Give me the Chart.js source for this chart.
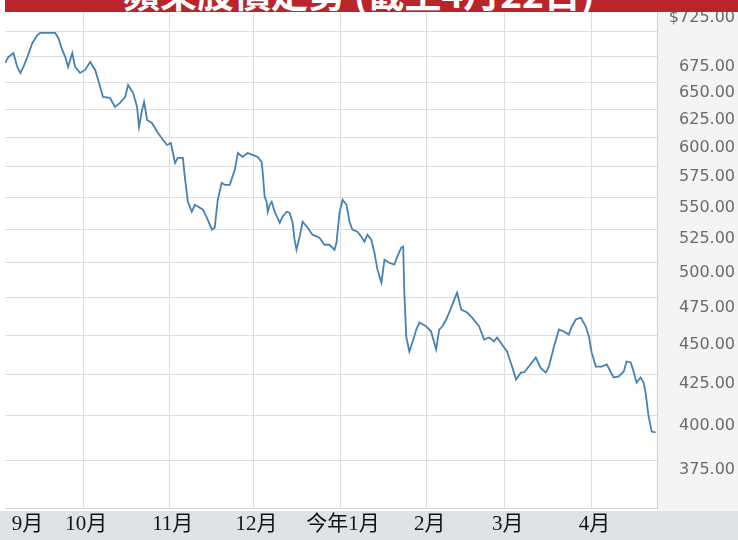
<!DOCTYPE html>
<html>
<head>
<meta charset="utf-8">
<script src="https://cdn.jsdelivr.net/npm/chart.js@4.4.1/dist/chart.umd.min.js"></script>
<style>
body{margin:0;background:#fff;}
#wrap{position:relative;width:738px;height:540px;overflow:hidden;}
#bar{position:absolute;left:5px;top:0;width:733px;height:12px;background:#b8262c;overflow:hidden;}
#bar span{position:absolute;left:118px;bottom:1px;white-space:nowrap;color:#fff;font:bold 37px/37px "Noto Sans CJK TC",sans-serif;}
</style>
</head>
<body>
<div id="wrap">
<canvas id="c" width="738" height="540"></canvas>
<div id="bar"><span>蘋果股價走勢 (截至4月22日)</span></div>
</div>
<script>
// day number counted from 1 Sept
const days = [
  2.1,3.2,5.0,6.4,7.5,8.6,10.0,11.8,13.6,14.6,
  20.0,21.1,22.5,23.6,24.6,26.1,27.1,28.9,30.7,32.5,
  34.3,36.1,37.1,39.6,41.4,43.2,45.0,46.1,47.9,49.3,
  50.0,51.1,51.8,52.9,54.6,56.8,58.6,60.0,61.4,62.9,
  63.9,65.7,66.4,67.5,68.9,70.0,71.8,72.9,74.6,76.1,
  77.1,78.2,79.6,80.7,82.5,84.3,85.4,87.1,88.9,90.7,
  92.5,93.9,94.3,95.0,95.7,96.1,96.8,97.5,98.6,100.4,
  101.4,102.9,103.9,105.0,105.7,106.4,107.5,108.6,110.4,112.1,
  114.6,116.4,118.2,120.0,120.7,121.8,122.9,124.3,125.4,126.4,
  128.2,129.6,130.7,131.8,133.2,134.3,135.4,136.8,137.9,139.6,
  141.4,142.5,143.9,144.6,145.0,145.7,146.8,147.9,149.3,150.4,
  152.9,154.6,155.7,156.4,157.5,158.6,160.0,161.8,162.9,163.9,
  165.4,167.5,169.3,171.8,173.6,175.4,177.1,178.2,180.0,181.8,
  183.6,185.0,186.8,187.9,189.6,192.1,193.9,195.7,196.8,198.6,
  200.4,202.1,203.9,205.0,206.4,208.2,210.0,211.1,212.1,213.6,
  215.7,217.5,220.0,221.8,223.6,224.6,226.1,227.1,228.2,229.6,
  230.7,231.4,232.5,233.6,235.0
];
const prices = [
  669.1,674.9,678.9,665.2,659.4,665.2,674.9,688.9,696.9,699.0,
  699.0,693.9,681.9,674.9,665.2,678.9,665.2,659.4,662.3,670.0,
  662.3,646.0,636.7,635.8,627.5,631.2,636.7,647.9,640.4,627.5,
  609.4,624.7,632.1,615.7,613.0,604.1,598.0,593.7,595.4,578.4,
  582.6,582.6,566.7,546.5,538.6,544.1,541.8,540.2,532.4,524.7,
  526.2,548.1,561.8,560.2,560.2,572.5,586.8,583.4,586.8,585.1,
  583.4,579.2,570.0,550.5,546.5,538.6,544.1,546.5,538.6,530.0,
  534.7,538.6,537.8,530.0,517.1,509.6,519.4,530.8,526.2,520.9,
  518.6,513.3,513.3,509.6,514.8,537.8,548.1,544.1,530.8,524.7,
  523.1,519.4,515.6,520.9,517.1,507.4,495.0,485.7,502.2,500.0,
  498.6,504.4,511.1,511.8,479.4,449.0,439.3,445.1,453.6,458.3,
  455.6,452.3,445.1,440.6,453.6,455.6,460.3,468.4,473.8,478.7,
  467.0,465.0,461.6,455.6,447.1,448.4,445.8,448.4,443.8,439.3,
  429.8,421.8,426.1,426.1,429.8,435.5,428.8,426.1,429.8,442.5,
  453.6,452.3,450.3,455.6,460.3,461.6,455.6,449.0,438.7,429.8,
  429.8,431.1,423.0,423.6,426.7,433.0,432.4,426.7,419.9,423.0,
  419.9,413.9,399.6,390.9,390.4
];
const monthDays = [9, 30, 61, 91, 122, 153, 181, 212];
const monthLabels = ['9月', '10月', '11月', '12月', '今年1月', '2月', '3月', '4月'];
const priceTicks = [375, 400, 425, 450, 475, 500, 525, 550, 575, 600, 625, 650, 675, 700, 725];

const bands = {
  id: 'bands',
  beforeDraw(chart) {
    const c = chart.ctx, a = chart.chartArea;
    c.save();
    c.fillStyle = '#f3f4f5';
    c.fillRect(a.right, 0, chart.width - a.right, a.bottom + 3);
    c.fillStyle = '#e0e3e6';
    c.fillRect(0, a.bottom + 3, chart.width, chart.height);
    c.restore();
  }
};

new Chart(document.getElementById('c'), {
  type: 'line',
  data: {
    datasets: [{
      data: days.map((d, i) => ({x: d, y: prices[i]})),
      borderColor: '#4582b2',
      borderWidth: 1.8,
      pointRadius: 0,
      tension: 0
    }]
  },
  options: {
    responsive: false,
    animation: false,
    layout: {padding: {left: 5, right: 3, top: 0, bottom: 0}},
    plugins: {legend: {display: false}, tooltip: {enabled: false}},
    scales: {
      x: {
        type: 'linear',
        min: 2,
        max: 235.5,
        afterBuildTicks: s => { s.ticks = monthDays.map(v => ({value: v})); },
        afterFit: s => { s.height = 32; s.paddingLeft = 0; s.paddingRight = 0; },
        grid: {
          color: ctx => (ctx.tick && ctx.tick.value === 9) ? 'rgba(0,0,0,0)' : '#dedede',
          drawTicks: false
        },
        border: {color: '#d6d6d6'},
        ticks: {
          autoSkip: false,
          maxRotation: 0,
          color: '#111',
          font: {family: '"Liberation Serif", "Noto Sans CJK SC", serif', size: 21},
          padding: 4,
          labelOffset: 3,
          callback: (v, i) => monthLabels[i]
        }
      },
      y: {
        type: 'logarithmic',
        position: 'right',
        min: 349.7,
        max: 733.4,
        afterBuildTicks: s => { s.ticks = priceTicks.map(v => ({value: v})); },
        afterFit: s => { s.width = 78; s.paddingTop = 0; s.paddingBottom = 0; },
        grid: {color: '#dedede', drawTicks: false},
        border: {color: '#d0d0d0'},
        ticks: {
          autoSkip: false,
          crossAlign: 'far',
          padding: 0,
          labelOffset: 10,
          color: '#6a6a6a',
          font: {family: '"DejaVu Sans"', size: 16},
          callback: v => v === 725 ? '$725.00' : (v === 700 ? '' : Number(v).toFixed(2))
        }
      }
    }
  },
  plugins: [bands]
});
</script>
</body>
</html>
